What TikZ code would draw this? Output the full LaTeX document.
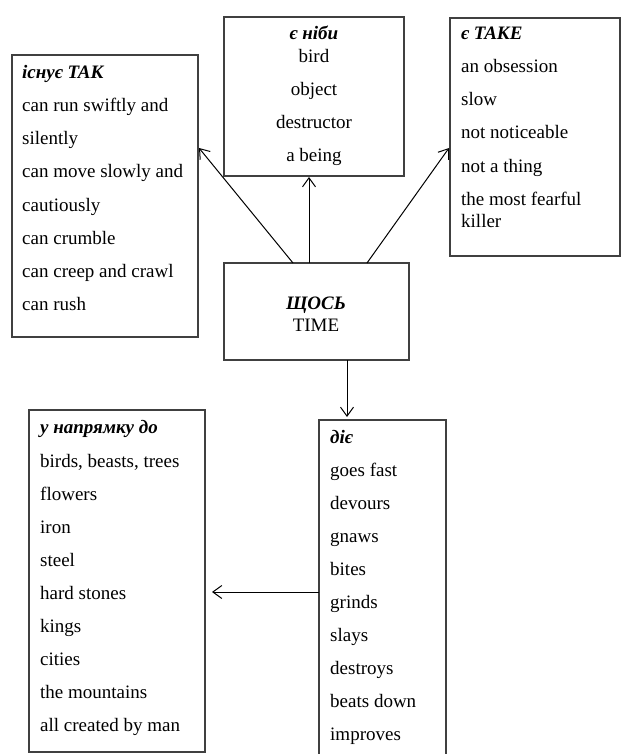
\documentclass[tikz,border=0pt]{standalone}
\usepackage{fontspec}
\setmainfont{Liberation Serif}
\usetikzlibrary{arrows.meta}
\begin{document}
\begin{tikzpicture}[x=1pt,y=-1pt,
  box/.style={draw=black!75,line width=1.1pt,inner sep=0pt,outer sep=0pt,anchor=north west},
  txt/.style={anchor=base west,inner sep=0pt,font=\fontsize{19}{22}\selectfont},
  ctxt/.style={anchor=base,inner sep=0pt,font=\fontsize{19}{22}\selectfont},
  hd/.style={font=\fontsize{19}{22}\selectfont\bfseries\itshape},
  arr/.style={-{Straight Barb[length=9pt,width=13pt]},line width=1pt}]
\useasboundingbox (0,0) rectangle (626,754);
\clip (0,0) rectangle (626,754);
% boxes
\node[box,minimum width=186pt,minimum height=282pt] (tl) at (12,55) {};
\node[box,minimum width=180pt,minimum height=159pt] (mid) at (224,17) {};
\node[box,minimum width=170pt,minimum height=238pt] (tr) at (450,18) {};
\node[box,minimum width=185pt,minimum height=97pt] (cen) at (224,263) {};
\node[box,minimum width=176pt,minimum height=342pt] (bl) at (29,410) {};
\node[box,minimum width=127pt,minimum height=360pt] (br) at (319,420) {};
% top-left texts
\node[txt,hd] (tlh) at (22,79) {існує ТАК};
\foreach \t [count=\i] in {can run swiftly and, silently, can move slowly and, cautiously, can crumble, can creep and crawl, can rush}
  \node[txt] (tl\i) at (22,{112+33*(\i-1)}) {\t};
% top-middle texts
\node[ctxt,hd] (midh) at (314,40) {є ніби};
\foreach \t [count=\i] in {bird, object, destructor, a being}
  \node[ctxt] (mid\i) at (314,{63+33*(\i-1)}) {\t};
% top-right texts
\node[txt,hd] (trh) at (461,40) {є ТАКЕ};
\foreach \t [count=\i] in {an obsession, slow, not noticeable, not a thing, the most fearful}
  \node[txt] (tr\i) at (461,{73+33*(\i-1)}) {\t};
\node[txt] (tr6) at (461,227) {killer};
% center texts
\node[ctxt,hd] (cenh) at (316,309) {ЩОСЬ};
\node[ctxt] (cen1) at (316,331) {TIME};
% bottom-left texts
\node[txt,hd] (blh) at (40,433) {у напрямку до};
\foreach \t [count=\i] in {{birds, beasts, trees}, flowers, iron, steel, hard stones, kings, cities, the mountains, all created by man}
  \node[txt] (bl\i) at (40,{467+33*(\i-1)}) {\t};
% bottom-right texts
\node[txt,hd] (brh) at (330,443) {діє};
\foreach \t [count=\i] in {goes fast, devours, gnaws, bites, grinds, slays, destroys, beats down, improves}
  \node[txt] (br\i) at (330,{476+33*(\i-1)}) {\t};
% connector end points
\coordinate (s1) at (293,263);
\coordinate (e1) at (199,148);
\coordinate (s2) at (309,263);
\coordinate (e2) at (309,177);
\coordinate (s3) at (367,263);
\coordinate (e3) at (449,148);
\coordinate (s4) at (347,360);
\coordinate (e4) at (347,417);
\coordinate (s5) at (319,592);
\coordinate (e5) at (212,592);
\draw[arr] (s1) -- (e1);
\draw[arr] (s2) -- (e2);
\draw[arr] (s3) -- (e3);
\draw[arr] (s4) -- (e4);
\draw[arr] (s5) -- (e5);
\end{tikzpicture}
\end{document}
